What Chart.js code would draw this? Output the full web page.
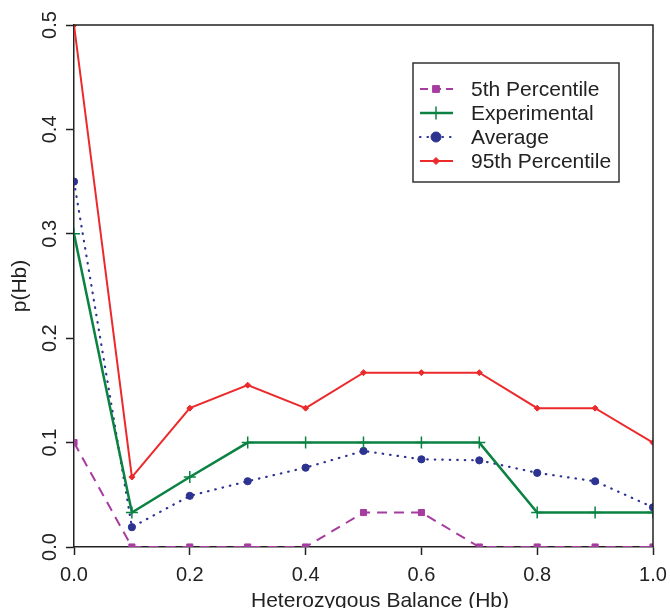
<!DOCTYPE html>
<html>
<head>
<meta charset="utf-8">
<script src="https://cdn.jsdelivr.net/npm/chart.js@4/dist/chart.umd.min.js"></script>
<style>
  html, body { margin: 0; padding: 0; background: #fff; }
  canvas { display: block; }
</style>
</head>
<body>
<canvas id="myChart" width="670" height="608"></canvas>
<script>
(() => {
    'use strict'

    // Hb values along the x axis
    const balance = [0.0, 0.1, 0.2, 0.3, 0.4, 0.5, 0.6, 0.7, 0.8, 0.9, 1.0];

    // p(Hb) for each series
    const pct5 = [0.1, 0, 0, 0, 0, 0.033, 0.033, 0, 0, 0, 0];
    const experimental = [0.3, 0.033, 0.067, 0.1, 0.1, 0.1, 0.1, 0.1, 0.033, 0.033, 0.033];
    const average = [0.35, 0.019, 0.049, 0.063, 0.076, 0.092, 0.084, 0.083, 0.071, 0.063, 0.038];
    const pct95 = [0.5, 0.067, 0.133, 0.155, 0.133, 0.167, 0.167, 0.167, 0.133, 0.133, 0.1];

    const seriesNames = ['5th Percentile', 'Experimental', 'Average', '95th Percentile'];
    const xTitle = 'Heterozygous Balance (Hb)';
    const yTitle = 'p(Hb)';

    const FONT = '"Liberation Sans", Arial, Helvetica, sans-serif';
    const INK = '#222';

    const toPoints = (ys) => ys.map((y, i) => ({ x: balance[i], y: y }));

    // Caixa completa em volta da área do gráfico (como o box() do R)
    const boxPlugin = {
        id: 'box',
        afterDatasetsDraw(chart) {
            const { ctx, chartArea: a } = chart;
            ctx.save();
            ctx.strokeStyle = INK;
            ctx.lineWidth = 1.5;
            ctx.beginPath();
            ctx.moveTo(a.left, a.top);
            ctx.lineTo(a.right, a.top);
            ctx.lineTo(a.right, a.bottom);
            ctx.stroke();
            ctx.restore();
        }
    };

    // Legenda dentro da área do gráfico
    const legendPlugin = {
        id: 'innerLegend',
        afterDraw(chart) {
            const { ctx } = chart;
            const box = { left: 413, top: 63, right: 619, bottom: 182 };
            ctx.save();
            ctx.fillStyle = '#fff';
            ctx.fillRect(box.left, box.top, box.right - box.left, box.bottom - box.top);
            ctx.strokeStyle = '#333';
            ctx.lineWidth = 1.5;
            ctx.strokeRect(box.left, box.top, box.right - box.left, box.bottom - box.top);

            const rowY = [89, 113, 137, 161];
            chart.data.datasets.forEach((ds, i) => {
                const y = rowY[i];
                ctx.save();
                ctx.strokeStyle = ds.borderColor;
                ctx.lineWidth = ds.borderWidth;
                ctx.lineCap = ds.borderCapStyle || 'butt';
                ctx.setLineDash(ds.legendDash || ds.borderDash || []);
                ctx.beginPath();
                ctx.moveTo(420, y);
                ctx.lineTo(453, y);
                ctx.stroke();
                ctx.restore();

                if (Chart.helpers && Chart.helpers.drawPoint) {
                    ctx.save();
                    ctx.fillStyle = ds.pointBackgroundColor;
                    ctx.strokeStyle = ds.pointBorderColor;
                    ctx.lineWidth = ds.pointBorderWidth;
                    Chart.helpers.drawPoint(ctx, {
                        pointStyle: ds.pointStyle,
                        radius: ds.legendRadius || ds.pointRadius + 0.5,
                        borderWidth: ds.pointBorderWidth,
                        rotation: 0
                    }, 436, y);
                    ctx.restore();
                }

                ctx.fillStyle = INK;
                ctx.font = '21px ' + FONT;
                ctx.textBaseline = 'middle';
                ctx.textAlign = 'left';
                ctx.fillText(ds.label, 471, y + 1);
            });
            ctx.restore();
        }
    };

    // Título do eixo x, deslocado como na figura original
    const xTitlePlugin = {
        id: 'xTitle',
        afterDraw(chart) {
            const { ctx } = chart;
            ctx.save();
            ctx.fillStyle = INK;
            ctx.font = '21px ' + FONT;
            ctx.textAlign = 'center';
            ctx.textBaseline = 'alphabetic';
            ctx.fillText(xTitle, 380, 607);
            ctx.restore();
        }
    };

    const ctx = document.getElementById('myChart').getContext('2d');
    new Chart(ctx, {
        type: 'line',
        data: {
            datasets: [{
                label: seriesNames[0],
                data: toPoints(pct5),
                borderColor: '#a63c9f',
                backgroundColor: '#a63c9f',
                borderWidth: 2,
                borderDash: [10, 7],
                pointStyle: 'rect',
                pointRadius: 4.3,
                pointBackgroundColor: '#a63c9f',
                pointBorderColor: '#a63c9f',
                pointBorderWidth: 1,
                legendDash: [8, 5],
                order: 3
            }, {
                label: seriesNames[1],
                data: toPoints(experimental),
                borderColor: '#0b8242',
                backgroundColor: '#0b8242',
                borderWidth: 2.5,
                pointStyle: 'cross',
                pointRadius: 6,
                pointBackgroundColor: '#0b8242',
                pointBorderColor: '#0b8242',
                pointBorderWidth: 1.5,
                order: 1
            }, {
                label: seriesNames[2],
                data: toPoints(average),
                borderColor: '#2d3391',
                backgroundColor: '#2d3391',
                borderWidth: 2.2,
                borderDash: [0.5, 7],
                borderCapStyle: 'round',
                pointStyle: 'circle',
                pointRadius: 3.6,
                pointBackgroundColor: '#2d3391',
                pointBorderColor: '#2d3391',
                pointBorderWidth: 1,
                legendRadius: 5,
                order: 2
            }, {
                label: seriesNames[3],
                data: toPoints(pct95),
                borderColor: '#ec2a2c',
                backgroundColor: '#ec2a2c',
                borderWidth: 2,
                pointStyle: 'rectRot',
                pointRadius: 3,
                pointBackgroundColor: '#ec2a2c',
                pointBorderColor: '#ec2a2c',
                pointBorderWidth: 1,
                order: 0
            }]
        },
        options: {
            responsive: false,
            animation: false,
            devicePixelRatio: 1,
            layout: {
                padding: { top: 25, right: 17, left: 0, bottom: 0 }
            },
            plugins: {
                legend: { display: false },
                tooltip: { enabled: false }
            },
            scales: {
                x: {
                    type: 'linear',
                    min: 0,
                    max: 1,
                    afterFit: (scale) => {
                        scale.height = 61;
                        scale.paddingLeft = 0;
                        scale.paddingRight = 0;
                    },
                    border: { display: true, color: INK, width: 1.5 },
                    grid: {
                        drawOnChartArea: false,
                        drawTicks: true,
                        tickLength: 8,
                        tickColor: INK,
                        tickWidth: 1.5
                    },
                    ticks: {
                        stepSize: 0.2,
                        padding: 8,
                        color: INK,
                        maxRotation: 0,
                        font: { family: FONT, size: 20 },
                        callback: (v) => v.toFixed(1)
                    }
                },
                y: {
                    min: 0,
                    max: 0.5,
                    afterFit: (scale) => { scale.width = 74; },
                    border: { display: true, color: INK, width: 1.5 },
                    grid: {
                        drawOnChartArea: false,
                        drawTicks: true,
                        tickLength: 8,
                        tickColor: INK,
                        tickWidth: 1.5
                    },
                    title: {
                        display: true,
                        text: yTitle,
                        color: INK,
                        font: { family: FONT, size: 21 },
                        padding: { top: 8, bottom: 0 }
                    },
                    ticks: {
                        stepSize: 0.1,
                        minRotation: 90,
                        maxRotation: 90,
                        crossAlign: 'center',
                        padding: 2,
                        color: INK,
                        font: { family: FONT, size: 20 },
                        callback: (v) => v.toFixed(1)
                    }
                }
            }
        },
        plugins: [boxPlugin, legendPlugin, xTitlePlugin]
    });
})();
</script>
</body>
</html>
